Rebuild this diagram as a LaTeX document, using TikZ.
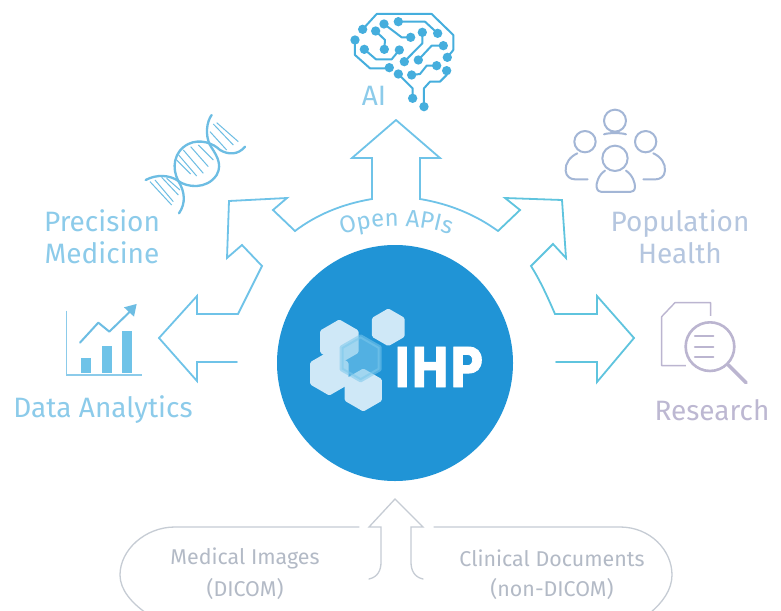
\documentclass[tikz,border=0pt]{standalone}
\usepackage{fontspec}
\setmainfont{Fira Sans}
\newfontfamily\ihpfont{DejaVu Sans Bold}[FakeBold=1.5]
\usetikzlibrary{decorations.text}
\definecolor{arrowL}{HTML}{6FC3E8}
\definecolor{arrowR}{HTML}{5FC4DE}
\definecolor{txtBlue}{HTML}{8CCBEA}
\definecolor{txtPop}{HTML}{B5C6DF}
\definecolor{txtRes}{HTML}{BDB8D2}
\definecolor{iconDna}{HTML}{6DBDE3}
\definecolor{iconPop}{HTML}{A3B6D6}
\definecolor{iconRes}{HTML}{BBB5D0}
\definecolor{brainC}{HTML}{45AEDD}
\definecolor{hub}{HTML}{2094D6}
\definecolor{pillC}{HTML}{C6CCD4}
\definecolor{pillT}{HTML}{B3BAC6}
\definecolor{hexL}{HTML}{CFE8F7}
\definecolor{hexM}{HTML}{7CC8EC}
\tikzset{
  bigtxt/.style={inner sep=0pt,font=\fontsize{28}{29}\selectfont,align=center},
  smalltxt/.style={inner sep=0pt,font=\fontsize{21.4}{23}\selectfont,text=pillT,align=center},
  arrowline/.style={draw,line width=1.8pt,line join=miter,line cap=round},
  icon/.style={line width=2pt,line cap=round,line join=round},
}
\newcommand{\hexat}[4]{\fill[#4] (#1+0,#2-#3) -- (#1+.866*#3,#2-.5*#3) -- (#1+.866*#3,#2+.5*#3) -- (#1,#2+#3) -- (#1-.866*#3,#2+.5*#3) -- (#1-.866*#3,#2-.5*#3) -- cycle;}
\begin{document}
\begin{tikzpicture}[x=1pt,y=-1pt]
\clip (0,0) rectangle (781,610);
\fill[white] (0,0) rectangle (781,610);

% hub
\node[circle,fill=hub,minimum size=236pt,inner sep=0pt] (hubnode) at (395,363) {};

% logo
\begin{scope}[shift={(270,240)},x=0.3333pt,y=-0.3333pt]
  \begin{scope}[every path/.style={draw=hexL,line width=5pt,line join=round}]
  \hexat{355}{262}{48}{fill=hexL}
  \hexat{208}{305}{58}{fill=hexL}
  \hexat{178}{400}{58}{fill=hexL}
  \hexat{280}{450}{56}{fill=hexL}
  \end{scope}
  \begin{scope}[every path/.style={draw=hexM,draw opacity=.55,line width=4pt,line join=round}]
  \hexat{272}{355}{66}{fill=hexM,fill opacity=.55}
  \end{scope}
\end{scope}
\node[inner sep=0pt,text=white,xscale=.84,font=\ihpfont\fontsize{55}{55}\selectfont] (ihp) at (438.5,367) {IHP};

% upper arrows
\draw[arrowline,arrowL] (396,120) -- (352,158) -- (372,158) -- (372,199)
  .. controls (342,204) and (316,215) .. (295,231) -- (273,210) -- (287,198)
  -- (229,201) -- (227,258) -- (242,245) -- (262,266)
  .. controls (254,282) and (246,298) .. (238,314) -- (197,314) -- (197,296)
  -- (159,338) -- (197,381) -- (197,362) -- (237,362);
\draw[arrowline,arrowL] (396,120) -- (440,158) -- (420,158) -- (420,199)
  .. controls (450,204) and (476,215) .. (498,231);
\draw[arrowline,arrowR] (498,231) -- (520,210) -- (505,198)
  -- (562,200) -- (566,258) -- (553,244) -- (531,266)
  .. controls (541,282) and (548,298) .. (555,314) -- (597,314) -- (597,296)
  -- (634,338) -- (597,382) -- (597,362) -- (556,362);

% curved label
\path[decorate,decoration={text along path,text align=center,
   text={|\fontsize{24}{24}\selectfont\color{txtBlue}|Open APIs}}]
   (325,242) .. controls (368,221) and (427,221) .. (467,242);

% labels
\node[bigtxt,text=txtBlue] (prec) at (102,237) {Precision\\[3pt]Medicine};
\node[bigtxt,text=txtPop] (pop) at (680,237) {Population\\[3pt]Health};
\node[bigtxt,text=txtBlue] (data) at (103,410) {Data Analytics};
\node[bigtxt,text=txtRes] (res) at (712,410) {Research};
\node[bigtxt,text=txtBlue] (ai) at (374,96) {AI};

% brain
\begin{scope}[shift={(270,0)},x=0.3333pt,y=-0.3333pt,brainC]
  \draw[icon] (255,120) -- (255,165) -- (300,205) -- (358,205);
  \draw[icon] (278,88) -- (320,42) -- (485,42) -- (550,105) -- (550,150) -- (532,172);
  \draw[icon] (385,65) -- (465,65) -- (503,100);
  \draw[icon] (342,72) -- (395,112) -- (422,112);
  \draw[icon] (317,93) -- (345,120) -- (343,148);
  \draw[icon] (283,148) -- (318,178) -- (365,178) -- (388,150);
  \draw[icon] (457,97) -- (457,130) -- (403,185);
  \draw[icon] (520,137) -- (485,137) -- (445,180);
  \draw[icon] (500,197) -- (470,197) -- (450,222) -- (425,225);
  \draw[icon] (530,212) -- (530,225) -- (510,245) -- (480,245) -- (462,265) -- (462,320);
  \draw[icon] (385,222) -- (428,265) -- (428,295);
  \foreach \px/\py in {255/120,358/203,278/88,532/172,385/65,503/100,342/72,422/112,317/93,343/148,283/148,388/150,457/97,403/185,520/137,445/180,500/197,425/225,530/212,462/320,385/222,428/295}
    \fill (\px,\py) circle (14);
\end{scope}

% DNA
\begin{scope}[shift={(0,100)},x=0.3333pt,y=-0.3333pt,iconDna]
  \draw[icon,line width=2.3pt] (437,240) .. controls (470,222) and (510,225) .. (535,243)
     .. controls (560,262) and (620,270) .. (650,225)
     .. controls (670,190) and (645,160) .. (630,135)
     .. controls (615,105) and (620,65) .. (635,45);
  \draw[icon,line width=2.3pt] (537,340) .. controls (558,310) and (555,275) .. (535,243)
     .. controls (515,205) and (520,155) .. (565,132)
     .. controls (600,115) and (640,130) .. (660,150)
     .. controls (685,165) and (715,165) .. (735,140);
  \begin{scope}[line width=1pt]
  \foreach \ax/\ay/\bx/\by in {530/180/572/222,536/165/590/228,550/150/610/220,572/140/625/200,595/135/640/180,
     640/72/700/135,630/95/680/150,650/68/715/125,
     465/240/520/305,485/232/535/285,500/235/540/270,450/245/515/315}
    \draw (\ax,\ay) -- (\bx,\by);
  \end{scope}
\end{scope}

% chart
\begin{scope}[shift={(0,100)},x=0.3333pt,y=-0.3333pt,iconDna]
  \draw[line width=1.1pt,line join=miter,txtBlue] (200,632) -- (200,825) -- (425,825);
  \fill[fill=arrowL] (243,775) rectangle (272,820);
  \fill[fill=arrowL] (305,737) rectangle (335,820);
  \fill[fill=arrowL] (367,692) rectangle (397,820);
  \draw[line width=2pt,line cap=round,line join=round] (240,728) -- (295,668) -- (328,695) -- (395,630);
  \fill (410,612) -- (402,650) -- (372,622) -- cycle;
\end{scope}

% population
\begin{scope}[shift={(500,100)},x=0.3333pt,y=-0.3333pt,iconPop]
  \draw[icon] (345,62) circle (33);
  \draw[icon] (255,125) circle (32);
  \draw[icon] (437,125) circle (32);
  \draw[icon] (345,175) circle (38);
  \draw[icon] (312,103) .. controls (325,98) and (365,98) .. (378,103);
  \draw[icon] (315,212) .. controls (295,225) and (288,250) .. (290,262)
     .. controls (292,272) and (298,276) .. (305,276) -- (390,276)
     .. controls (398,276) and (404,272) .. (405,262)
     .. controls (406,250) and (398,225) .. (378,212);
  \draw[icon] (232,160) .. controls (210,170) and (195,190) .. (197,212)
     .. controls (198,230) and (212,238) .. (225,238) -- (263,238);
  \draw[icon] (460,160) .. controls (482,170) and (497,190) .. (495,212)
     .. controls (494,230) and (480,238) .. (467,238) -- (430,238);
\end{scope}

% research
\begin{scope}[shift={(500,100)},x=0.3333pt,y=-0.3333pt,iconRes]
  \draw[line width=1.4pt,line join=round] (632,648) -- (632,608) -- (525,608) -- (485,650) -- (485,797) -- (558,797);
  \draw[line width=2.6pt] (630,740) circle (73);
  \draw[line width=2.2pt,line cap=round] (585,708) -- (640,708) (585,740) -- (640,740) (585,771) -- (640,771);
  \draw[line width=3.6pt,line cap=round] (685,795) -- (738,848);
\end{scope}

% bottom arrow and pills
\draw[line width=1.3pt,pillC,line join=miter,line cap=round] (369,579)
  .. controls (378,577) and (381,570) .. (381,562) -- (381,527) -- (369,527) -- (395,499)
  -- (423,527) -- (411,527) -- (411,562) .. controls (411,570) and (414,577) .. (423,579);
\draw[line width=1.3pt,pillC,line cap=round] (359,527) -- (175,527)
  .. controls (145,527) and (120,550) .. (120,575) .. controls (120,590) and (132,603) .. (146,613);
\draw[line width=1.3pt,pillC,line cap=round] (434,527) -- (620,527)
  .. controls (650,527) and (672,550) .. (672,575) .. controls (672,590) and (662,603) .. (650,613);
\node[smalltxt] (med) at (245,558) {Medical Images};
\node[smalltxt] (dic) at (245,589) {(DICOM)};
\node[smalltxt] (cli) at (552,558) {Clinical Documents};
\node[smalltxt] (non) at (552,589) {(non-DICOM)};
\end{tikzpicture}
\end{document}
